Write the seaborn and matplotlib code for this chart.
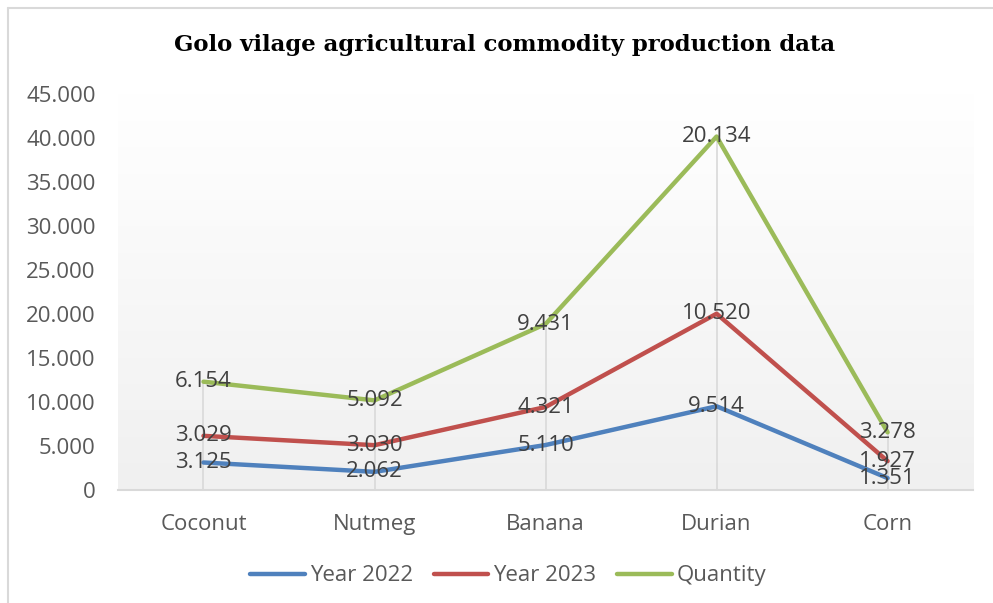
import numpy as np
import pandas as pd
import matplotlib
matplotlib.use("Agg")
import matplotlib.pyplot as plt
from matplotlib.lines import Line2D
import seaborn as sns

# Production per commodity (values in units, "." is the thousands separator)
commodities = ["Coconut", "Nutmeg", "Banana", "Durian", "Corn"]
year_2022 = [3125, 2062, 5110, 9514, 1351]
year_2023 = [3029, 3030, 4321, 10520, 1927]
quantity = [6154, 5092, 9431, 20134, 3278]

series_names = ["Year 2022", "Year 2023", "Quantity"]
series_values = [year_2022, year_2023, quantity]
series_colors = ["#4F81BD", "#C0504D", "#9BBB59"]

# Stacked line layout: each series sits on top of the previous ones
rows = []
running = np.zeros(len(commodities))
for name, vals in zip(series_names, series_values):
    vals = np.asarray(vals, dtype=float)
    running = running + vals
    for c, v, cum in zip(commodities, vals, running):
        rows.append({"commodity": c, "series": name, "value": v, "stacked": cum})
df = pd.DataFrame(rows)

sns.set_theme(style="white")
plt.rcParams["font.family"] = ["Open Sans", "DejaVu Sans"]

FS = 16

fig = plt.figure(figsize=(9.93, 6.03), dpi=100)
ax = fig.add_axes([0.1188, 0.1874, 0.980 - 0.1188, 0.8441 - 0.1874])

# Soft vertical gradient behind the plot area
grad = np.linspace(0, 1, 256).reshape(-1, 1)
ax.imshow(grad, extent=[0, 1, 0, 1], transform=ax.transAxes, aspect="auto",
          cmap=matplotlib.colors.LinearSegmentedColormap.from_list(
              "bg", ["#F0F0F0", "#FFFFFF"]),
          origin="lower", zorder=0, interpolation="bicubic")

sns.lineplot(data=df, x="commodity", y="stacked", hue="series",
             hue_order=series_names, palette=series_colors,
             linewidth=3.2, ax=ax, legend=False, sort=False, zorder=3)

# Drop lines from the top series down to the axis
top = df[df["series"] == series_names[-1]]
ax.vlines(np.arange(len(commodities)), 0, top["stacked"].to_numpy(),
          color="#D9D9D9", linewidth=1.2, zorder=2)

# Data labels centred on each point, showing the series' own value
for _, r in df.iterrows():
    xi = commodities.index(r["commodity"])
    lbl = f"{int(r['value']):,}".replace(",", ".")
    ax.text(xi, r["stacked"], lbl, ha="center", va="center",
            fontsize=FS, color="#404040", zorder=4)

ax.set_xlim(-0.5, len(commodities) - 0.5)
ax.set_ylim(0, 45000)
yt = np.arange(0, 45001, 5000)
ax.set_yticks(yt)
ax.set_yticklabels([f"{int(t):,}".replace(",", ".") for t in yt])
ax.set_xticks(np.arange(len(commodities)))
ax.set_xticklabels(commodities)
ax.tick_params(axis="both", length=0, labelsize=FS, colors="#595959")
ax.tick_params(axis="y", pad=16)
ax.tick_params(axis="x", pad=17)
ax.set_xlabel("")
ax.set_ylabel("")
ax.grid(False)
for s in ["top", "right", "left"]:
    ax.spines[s].set_visible(False)
ax.spines["bottom"].set_color("#D9D9D9")
ax.spines["bottom"].set_linewidth(1.5)
ax.spines["bottom"].set_zorder(2.5)

fig.text(0.508, 0.925, "Golo vilage agricultural commodity production data",
         ha="center", va="center", fontsize=16.4, fontweight="bold",
         family=["DejaVu Serif"], color="#000000")

handles = [Line2D([0], [0], color=c, linewidth=3.2) for c in series_colors]
fig.legend(handles, series_names, loc="center", bbox_to_anchor=(0.512, 0.045),
           ncol=3, frameon=False, fontsize=FS, handlelength=2.45,
           handletextpad=0.22, columnspacing=0.95, labelcolor="#595959")

# Chart frame edges
fig.add_artist(Line2D([8 / 993, 1], [1 - 8 / 603, 1 - 8 / 603],
                      transform=fig.transFigure, color="#D9D9D9", linewidth=1.5))
fig.add_artist(Line2D([8 / 993, 8 / 993], [0, 1 - 8 / 603],
                      transform=fig.transFigure, color="#D9D9D9", linewidth=1.5))

fig.savefig("out.png", dpi=100, facecolor="white")
